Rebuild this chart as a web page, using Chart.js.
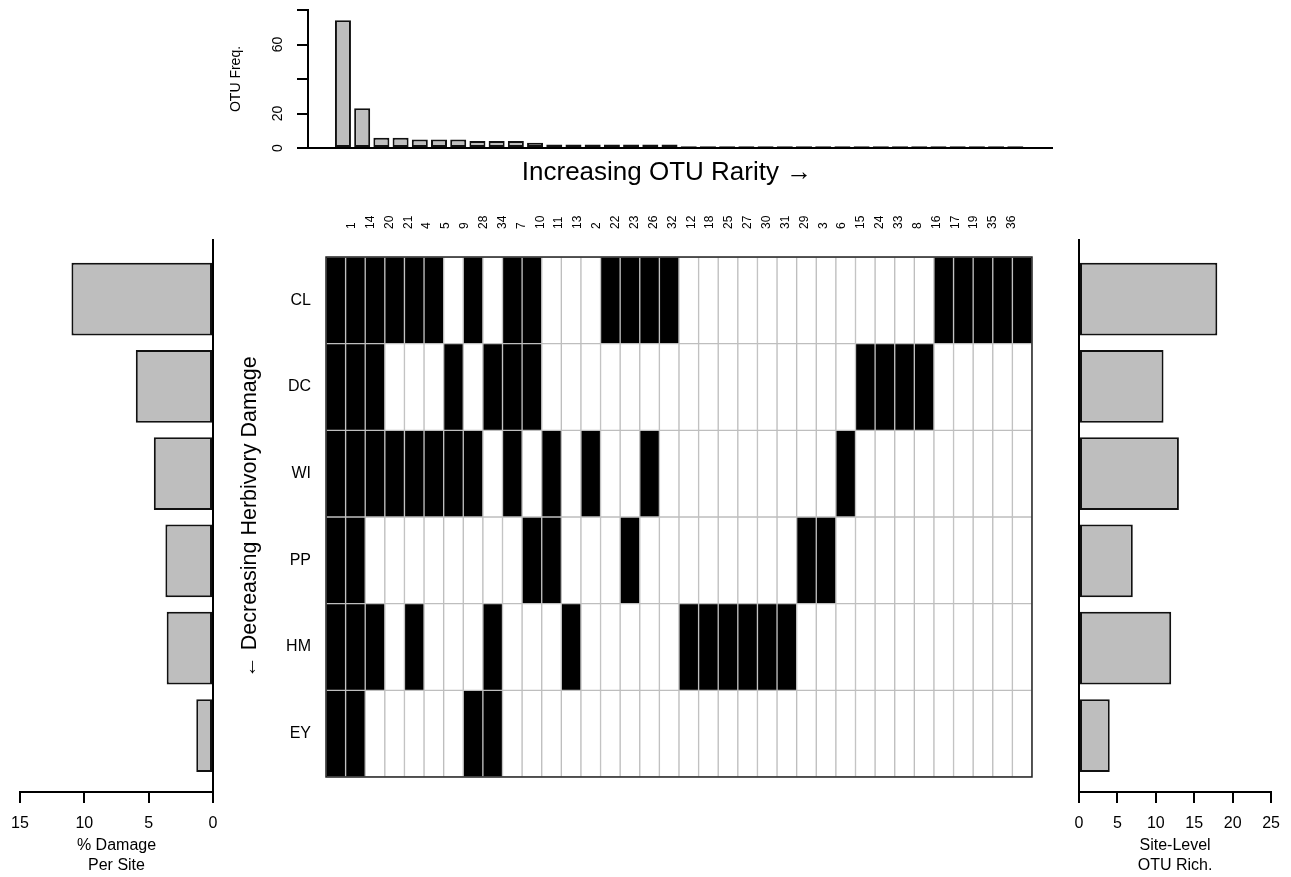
<!DOCTYPE html>
<html>
<head>
<meta charset="utf-8">
<title>OTU rarity and herbivory damage by site</title>
<script src="https://cdn.jsdelivr.net/npm/chart.js@4.4.1/dist/chart.umd.min.js"></script>
<style>
  html, body { margin: 0; padding: 0; background: #fff; }
  body { width: 1291px; height: 877px; position: relative; overflow: hidden; }
  canvas { position: absolute; }
  #freqChart   { left: 200px;  top: 0; }
  #gridChart   { left: 230px;  top: 190px; }
  #damageChart { left: 0;      top: 220px; }
  #richChart   { left: 1060px; top: 220px; }
</style>
</head>
<body>
<canvas id="freqChart" width="860" height="190"></canvas>
<canvas id="gridChart" width="820" height="600"></canvas>
<canvas id="damageChart" width="232" height="657"></canvas>
<canvas id="richChart" width="231" height="657"></canvas>
<script>
// ── Data ──────────────────────────────────────────────────────
// OTUs ordered by decreasing frequency (most common first)
const otus = [1, 14, 20, 21, 4, 5, 9, 28, 34, 7, 10, 11, 13, 2, 22, 23, 26, 32,
              12, 18, 25, 27, 30, 31, 29, 3, 6, 15, 24, 33, 8, 16, 17, 19, 35, 36];
const otuFreq = [74, 23, 6, 6, 5, 5, 5, 4, 4, 4, 3, 2, 2, 2, 2, 2, 2, 2,
                 1, 1, 1, 1, 1, 1, 1, 1, 1, 1, 1, 1, 1, 1, 1, 1, 1, 1];
const freqTicks = [0, 20, 60];

// sites ordered by decreasing herbivory damage
const sites = ['CL', 'DC', 'WI', 'PP', 'HM', 'EY'];
// presence / absence of each OTU per site, same column order as otus
const presence = [
  '111111 010110 001111 000000 000000 011111',
  '111000 101110 000000 000000 000111 100000',
  '111111 110101 010010 000000 001000 000000',
  '110000 000011 000100 000000 110000 000000',
  '111010 001000 100000 111111 000000 000000',
  '110000 011000 000000 000000 000000 000000',
];
const damage = [11, 6, 4.6, 3.7, 3.6, 1.3];
const richness = [18, 11, 13, 7, 12, 4];
const damageTicks = [0, 5, 10, 15];
const richTicks = [0, 5, 10, 15, 20, 25];

// ── Shared style ──────────────────────────────────────────────
Chart.defaults.font.family = "'Liberation Sans', Arial, Helvetica, sans-serif";
Chart.defaults.color = '#000';
Chart.defaults.animation = false;

const barFill = '#bebebe';
const ink = '#111';
const noPlugins = { legend: { display: false }, tooltip: { enabled: false } };

const cells = presence.map(row => row.replace(/ /g, '').split('').map(Number));
const rowPos = i => sites.length - 1 - i;   // CL on top

// ── OTU frequency bars ────────────────────────────────────────
// y tick labels are drawn rotated, like the rest of the vertical text
const freqLabels = {
  id: 'freqLabels',
  afterDraw(chart) {
    const { ctx, scales: { y } } = chart;
    ctx.save();
    ctx.font = "14px 'Liberation Sans', Arial, sans-serif";
    ctx.fillStyle = '#000';
    ctx.textAlign = 'center';
    ctx.textBaseline = 'middle';
    freqTicks.forEach(v => {
      ctx.save();
      ctx.translate(y.right - 30, y.getPixelForValue(v));
      ctx.rotate(-Math.PI / 2);
      ctx.fillText(String(v), 0, 0);
      ctx.restore();
    });
    ctx.restore();
  }
};

new Chart(document.getElementById('freqChart'), {
  type: 'bar',
  data: {
    datasets: [{
      data: otuFreq.map((v, i) => ({ x: i, y: v })),
      backgroundColor: barFill, borderColor: ink, borderWidth: 2,
      borderSkipped: false, barPercentage: 1 / 1.2, categoryPercentage: 1,
    }]
  },
  options: {
    responsive: false,
    layout: { padding: { top: 10, right: 8, left: 0, bottom: 0 } },
    plugins: noPlugins,
    scales: {
      x: {
        type: 'linear', min: -1.82, max: 36.91, offset: false,
        afterBuildTicks: ax => { ax.ticks = otuFreq.map((v, i) => ({ value: i })); },
        ticks: { display: false },
        grid: { display: false, drawTicks: false, offset: false },
        border: { color: '#000', width: 2 },
        // trailing em space keeps the caption a little left of the plot centre
        title: { display: true, text: 'Increasing OTU Rarity \u2192\u2003', font: { size: 26 }, padding: { top: 0, bottom: 2 } },
        afterFit: ax => { ax.height = 42; }
      },
      y: {
        min: 0, max: 80,
        ticks: { display: false, stepSize: 20 },
        grid: { drawOnChartArea: false, tickLength: 11, color: '#000', lineWidth: 2 },
        border: { color: '#000', width: 2 },
        title: { display: true, text: 'OTU Freq.', font: { size: 14 }, padding: { top: 27.6, bottom: 0 } },
        afterFit: ax => { ax.width = 108; }
      }
    }
  },
  plugins: [freqLabels]
});

// ── Site × OTU presence grid ──────────────────────────────────
const frame = {
  id: 'frame',
  afterDatasetsDraw(chart) {
    const { ctx, chartArea: a } = chart;
    ctx.save();
    ctx.strokeStyle = '#222';
    ctx.lineWidth = 1.5;
    ctx.strokeRect(a.left, a.top, a.width, a.height);
    ctx.restore();
  }
};

new Chart(document.getElementById('gridChart'), {
  type: 'bar',
  data: {
    labels: otus.map(String),
    datasets: sites.map((site, r) => ({
      label: site,
      data: otus.map(() => [rowPos(r), rowPos(r) + 1]),
      backgroundColor: cells[r].map(v => v ? '#000' : '#fff'),
      borderColor: '#bebebe', borderWidth: 1, borderSkipped: false,
      grouped: false, barPercentage: 1, categoryPercentage: 1,
    }))
  },
  options: {
    responsive: false,
    layout: { padding: { top: 0, right: 18, left: 0, bottom: 13 } },
    plugins: noPlugins,
    scales: {
      x: { display: false },
      // OTU names along the top
      otuAxis: {
        axis: 'x', type: 'linear', position: 'top', min: -1.363, max: 36.07, offset: false,
        afterBuildTicks: ax => { ax.ticks = otus.map((o, i) => ({ value: i })); },
        ticks: {
          minRotation: 90, maxRotation: 90, autoSkip: false, font: { size: 12 },
          padding: 28, labelOffset: 14.4, callback: (v, i) => String(otus[i])
        },
        grid: { display: false, drawTicks: false },
        border: { display: false },
        afterFit: ax => { ax.height = 67; }
      },
      y: {
        min: 0, max: sites.length,
        afterBuildTicks: ax => { ax.ticks = sites.map((s, i) => ({ value: i + 0.5 })); },
        ticks: { font: { size: 16 }, padding: 15, callback: v => sites[rowPos(Math.floor(v))] },
        grid: { display: false, drawTicks: false },
        border: { display: false },
        title: { display: true, text: '\u2190 Decreasing Herbivory Damage', font: { size: 21.5 }, padding: { top: 7, bottom: 0 } },
        afterFit: ax => { ax.width = 96; ax.paddingTop = 0; ax.paddingBottom = 0; }
      }
    }
  },
  plugins: [frame]
});

// ── Side bar panels ───────────────────────────────────────────
function sideBars(id, values, ticks, max, title, left) {
  return new Chart(document.getElementById(id), {
    type: 'bar',
    data: {
      datasets: [{
        data: values.map((v, i) => ({ x: v, y: rowPos(i) })),
        backgroundColor: barFill, borderColor: ink, borderWidth: 2,
        borderSkipped: false, barPercentage: 1 / 1.2, categoryPercentage: 1,
      }]
    },
    options: {
      responsive: false,
      indexAxis: 'y',
      layout: { padding: left ? { top: 20, left: 20, right: 0, bottom: 0 } : { top: 20, left: 0, right: 11, bottom: 0 } },
      plugins: noPlugins,
      scales: {
        x: {
          type: 'linear', min: 0, max, reverse: left,
          afterBuildTicks: ax => { ax.ticks = ticks.map(v => ({ value: v })); },
          ticks: { font: { size: 16 }, padding: 11, maxRotation: 0 },
          grid: { drawOnChartArea: false, tickLength: 11, color: '#000', lineWidth: 2 },
          border: { color: '#000', width: 2 },
          title: { display: true, text: title, font: { size: 16, lineHeight: 1.25 }, padding: { top: 0, bottom: 1 } },
          afterFit: ax => { ax.height = 85; }
        },
        y: {
          type: 'linear', position: left ? 'right' : 'left',
          min: -0.647, max: 5.676, offset: false,
          afterBuildTicks: ax => { ax.ticks = sites.map((s, i) => ({ value: i })); },
          ticks: { display: false },
          grid: { display: false, drawTicks: false, offset: false },
          border: { color: '#000', width: 2 },
          afterFit: ax => { ax.width = 19; }
        }
      }
    }
  });
}

sideBars('damageChart', damage, damageTicks, 15, ['% Damage', 'Per Site'], true);
sideBars('richChart', richness, richTicks, 25, ['Site-Level', 'OTU Rich.'], false);
</script>
</body>
</html>
